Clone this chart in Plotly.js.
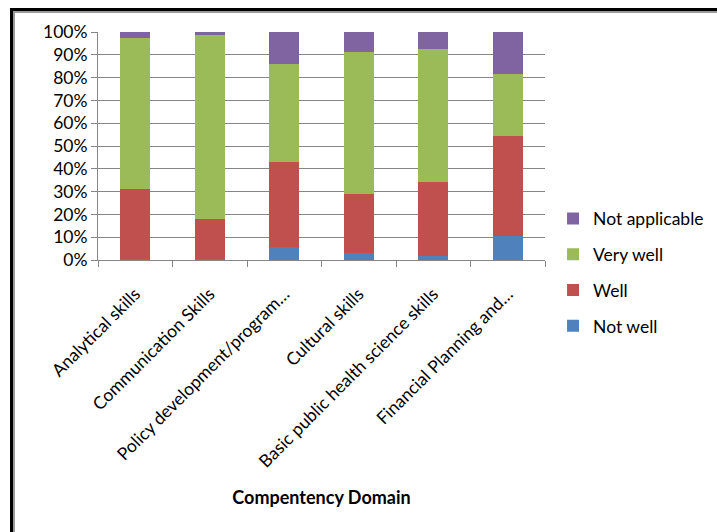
<!DOCTYPE html>
<html>
<head>
<meta charset="utf-8">
<script src="https://cdn.plot.ly/plotly-3.0.1.min.js"></script>
<style>
  html, body { margin: 0; padding: 0; background: #fff; }
  #wrap { position: relative; width: 717px; height: 532px; }
  #chart { width: 717px; height: 532px; }
  #frame { position: absolute; left: 10px; top: 8px; right: 0; bottom: 0;
           border-left: 3px solid #000; border-top: 3px solid #000;
           box-shadow: inset 2px 2px 0 #999; pointer-events: none; }
</style>
</head>
<body>
<div id="wrap">
  <div id="chart"></div>
  <div id="frame"></div>
</div>
<script>
const categories = [
  "Analytical skills",
  "Communication Skills",
  "Policy development/program…",
  "Cultural skills",
  "Basic public health science skills",
  "Financial Planning and…"
];
const notWell       = [0.5, 0.5, 5.8, 2.9, 1.8, 10.5];
const well          = [30.6, 17.6, 37.2, 26.2, 32.4, 43.9];
const veryWell      = [66.4, 80.6, 43.1, 62.0, 58.2, 27.0];
const notApplicable = [2.5, 1.3, 13.9, 8.9, 7.6, 18.6];
const yTickVals = [0, 10, 20, 30, 40, 50, 60, 70, 80, 90, 100];
const yTickText = ["0%", "10%", "20%", "30%", "40%", "50%", "60%", "70%", "80%", "90%", "100%"];

const series = [
  { name: "Not well", y: notWell, color: "#4F81BD", rank: 4 },
  { name: "Well", y: well, color: "#C0504D", rank: 3 },
  { name: "Very well", y: veryWell, color: "#9BBB59", rank: 2 },
  { name: "Not applicable", y: notApplicable, color: "#8064A2", rank: 1 }
];

const data = series.map(s => ({
  type: "bar",
  name: s.name,
  x: categories,
  y: s.y,
  legendgroup: s.name,
  legendrank: s.rank,
  marker: { color: s.color, line: { width: 0 } },
  hoverinfo: "x+y+name"
}));

const font = "Lato, 'Open Sans', sans-serif";

const layout = {
  width: 717,
  height: 532,
  margin: { l: 98, r: 172, t: 32, b: 272, autoexpand: false },
  paper_bgcolor: "#ffffff",
  plot_bgcolor: "#ffffff",
  barmode: "stack",
  bargap: 0.6,
  font: { family: font, size: 17.5, color: "#000" },
  showlegend: true,
  legend: {
    x: 1.018, y: 0.26, xanchor: "left", yanchor: "top",
    traceorder: "grouped",
    tracegroupgap: 10,
    font: { family: font, size: 17.5, color: "#000" },
    itemwidth: 30
  },
  xaxis: {
    type: "category",
    tickangle: -45,
    ticks: "outside",
    tickson: "boundaries",
    ticklen: 6,
    ticklabelstandoff: 16,
    tickcolor: "#868686",
    showline: true,
    linecolor: "#868686",
    linewidth: 1,
    showgrid: false,
    tickfont: { family: font, size: 17.5, color: "#000" },
    automargin: false,
    title: { text: "<b>Compentency Domain</b>", font: { family: font, size: 18, color: "#000" }, standoff: 20 }
  },
  yaxis: {
    range: [0, 100],
    tickvals: yTickVals,
    ticktext: yTickText,
    ticks: "outside",
    ticklen: 6,
    tickcolor: "#868686",
    showline: true,
    linecolor: "#868686",
    linewidth: 1,
    showgrid: true,
    gridcolor: "#868686",
    gridwidth: 1,
    zeroline: false,
    tickfont: { family: font, size: 17.5, color: "#000" },
    automargin: false
  }
};

Plotly.newPlot("chart", data, layout, { displayModeBar: false, staticPlot: true });
</script>
</body>
</html>
